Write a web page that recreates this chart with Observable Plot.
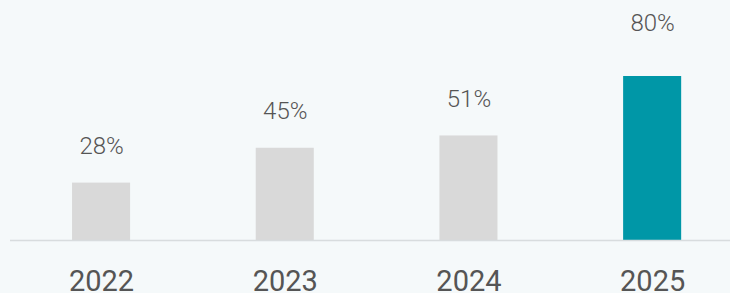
<!DOCTYPE html>
<html>
<head>
<meta charset="utf-8">
<script src="https://cdn.jsdelivr.net/npm/d3@7"></script>
<script src="https://cdn.jsdelivr.net/npm/@observablehq/plot@0.6"></script>
<style>
  html, body { margin: 0; padding: 0; background: #f5f9fa; }
  #chart svg { display: block; background: #f5f9fa; }
</style>
</head>
<body>
<div id="chart"></div>
<script>
const years = ["2022", "2023", "2024", "2025"];
const shares = [28, 45, 51, 80];
const highlightYear = "2025";

const data = years.map((year, i) => ({year, share: shares[i], highlight: year === highlightYear}));

const labelStyle = {x: "year", y: "share", text: d => `${d.share}%`, lineAnchor: "bottom", fontSize: 24, fontWeight: 300, fill: "#555555"};

const chart = Plot.plot({
  width: 730,
  height: 293,
  marginTop: 35,
  marginBottom: 53,
  marginLeft: 10,
  marginRight: 0,
  style: {background: "#f5f9fa", fontFamily: "Roboto, 'Open Sans', sans-serif"},
  x: {domain: years, range: [0, 730], round: false, padding: 0.684, paddingOuter: 0.329, align: 0.596, label: null},
  y: {domain: [0, 100], axis: null},
  marks: [
    Plot.barY(data, {x: "year", y: "share", fill: d => d.highlight ? "#0097a7" : "#d9d9d9"}),
    Plot.ruleY([0], {stroke: "#d8dcde", strokeWidth: 1.5}),
    Plot.text(data.filter(d => !d.highlight), {...labelStyle, dy: -29}),
    Plot.text(data.filter(d => d.highlight), {...labelStyle, dy: -46}),
    Plot.axisX({tickSize: 0, tickPadding: 30, fontSize: 29, fill: "#555555", label: null})
  ]
});
document.getElementById("chart").append(chart);
</script>
</body>
</html>
